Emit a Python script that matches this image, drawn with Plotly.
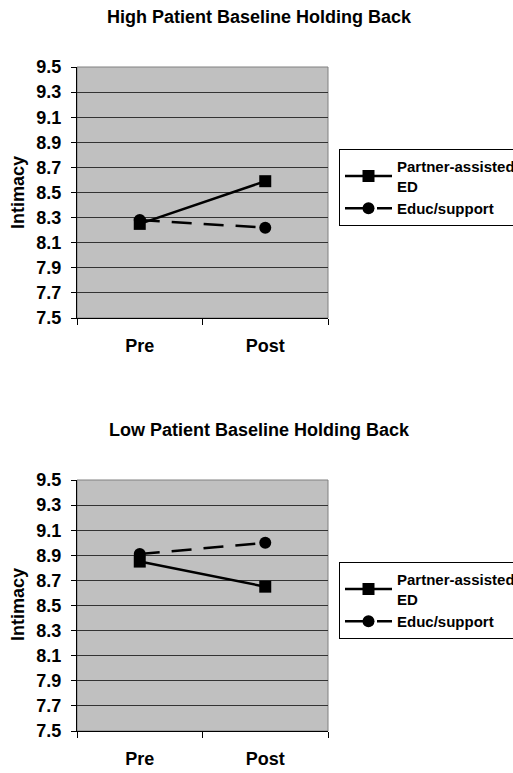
import plotly.graph_objects as go

categories = ["Pre", "Post"]
series_names = ["Partner-assisted<br>ED", "Educ/support"]
high_partner = [8.25, 8.59]
high_educ = [8.28, 8.22]
low_partner = [8.85, 8.65]
low_educ = [8.91, 9.00]
titles = ["High Patient Baseline Holding Back", "Low Patient Baseline Holding Back"]
y_ticks = [7.5, 7.7, 7.9, 8.1, 8.3, 8.5, 8.7, 8.9, 9.1, 9.3, 9.5]
y_label = "Intimacy"

W, H = 513, 773
L, R = 77, 328
FONT = "Liberation Sans, Arial, sans-serif"

def py(px):
    return 1 - px / H

def px_x(px):
    return (px - L) / (R - L)

fig = go.Figure()

panels = [
    (high_partner, high_educ, "x", "y", "legend"),
    (low_partner, low_educ, "x2", "y2", "legend2"),
]
for pv, ev, xa, ya, lg in panels:
    fig.add_trace(go.Scatter(
        x=categories, y=pv, name=series_names[0], xaxis=xa, yaxis=ya, legend=lg,
        mode="lines+markers",
        line=dict(color="black", width=2.5),
        marker=dict(symbol="square", size=12, color="black"),
    ))
    fig.add_trace(go.Scatter(
        x=categories, y=ev, name=series_names[1], xaxis=xa, yaxis=ya, legend=lg,
        mode="lines+markers",
        line=dict(color="black", width=2.5, dash="20px,12px"),
        marker=dict(symbol="circle", size=12, color="black"),
    ))

tickfont = dict(family=FONT, size=18, color="black", weight="bold")

xcommon = dict(
    type="category", range=[-0.5, 1.5], tickson="boundaries",
    ticks="outside", ticklen=6, tickcolor="black", tickwidth=1,
    showline=True, linecolor="black", linewidth=1,
    showgrid=False, zeroline=False, tickfont=tickfont,
    ticklabelstandoff=11, fixedrange=True,
)
ycommon = dict(
    range=[7.5, 9.5], tickvals=y_ticks, ticktext=[f"{v:.1f}" for v in y_ticks],
    ticks="outside", ticklen=5, tickcolor="black", tickwidth=1,
    showline=True, linecolor="black", linewidth=1,
    showgrid=True, gridcolor="#333333", gridwidth=1,
    zeroline=False, tickfont=tickfont, ticklabelstandoff=6, fixedrange=True,
)

top_dom = [py(318), py(67)]
bot_dom = [py(731), py(480)]

legend_common = dict(
    xanchor="left", yanchor="top",
    bgcolor="white", bordercolor="black", borderwidth=1,
    font=dict(family=FONT, size=15, color="black", weight="bold"),
    itemwidth=47, tracegroupgap=0, traceorder="normal",
)

fig.update_layout(
    width=W, height=H,
    margin=dict(l=L, r=W - R, t=0, b=0, autoexpand=False),
    paper_bgcolor="white",
    plot_bgcolor="#c0c0c0",
    showlegend=True,
    xaxis=dict(domain=[0, 1], anchor="y", **xcommon),
    yaxis=dict(domain=top_dom, anchor="x", **ycommon),
    xaxis2=dict(domain=[0, 1], anchor="y2", **xcommon),
    yaxis2=dict(domain=bot_dom, anchor="x2", **ycommon),
    legend=dict(x=px_x(339), y=py(149), **legend_common),
    legend2=dict(x=px_x(339), y=py(562), **legend_common),
)

# plot-area border (gray)
for xr, yr in [("x domain", "y domain"), ("x2 domain", "y2 domain")]:
    fig.add_shape(type="rect", xref=xr, yref=yr, x0=0, x1=1, y0=0, y1=1,
                  line=dict(color="#808080", width=1), layer="below")

for t, yc in zip(titles, [17, 430]):
    fig.add_annotation(text=t, xref="paper", yref="paper", x=px_x(259), y=py(yc),
                       xanchor="center", yanchor="middle", showarrow=False,
                       font=dict(family=FONT, size=18, color="black", weight="bold"))

for yc in [193, 605]:
    fig.add_annotation(text=y_label, xref="paper", yref="paper", x=px_x(18), y=py(yc),
                       xanchor="center", yanchor="middle", showarrow=False, textangle=-90,
                       font=dict(family=FONT, size=18, color="black", weight="bold"))

fig.write_html("out.html")
